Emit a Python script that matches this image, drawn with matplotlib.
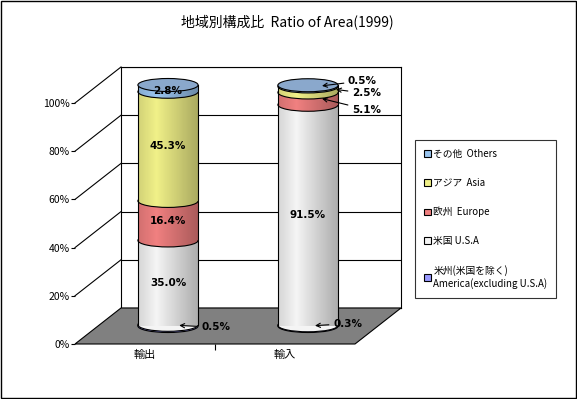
import numpy as np
import matplotlib
matplotlib.use("Agg")
import matplotlib.pyplot as plt
from matplotlib.patches import Ellipse, Rectangle, Polygon, Patch
from matplotlib.lines import Line2D

plt.rcParams['font.family'] = ['Noto Sans CJK JP', 'DejaVu Sans']

categories = ["輸出", "輸入"]
regions = ["米州(米国を除く)\nAmerica(excluding U.S.A)", "米国 U.S.A", "欧州  Europe", "アジア  Asia", "その他  Others"]
export_vals = [0.5, 35.0, 16.4, 45.3, 2.8]
import_vals = [0.3, 91.5, 5.1, 2.5, 0.5]
colors = ["#9999ff", "#f4f4f4", "#f08080", "#f0f088", "#99c4ee"]
cap_color = "#8aa8cc"

W, H = 577, 399
fig = plt.figure(figsize=(W / 100, H / 100), dpi=100)


def fx(x):
    return x / W


def fy(y):
    return 1 - y / H


# plot geometry in pixels (front plane)
x0, x1 = 75, 355
y0, y100 = 344, 103
dx_back, dy_back = 46, 36
dx_mid, dy_mid = 23, 18
aw, ah = (x1 - x0) / W, (y0 - y100) / H

# back wall
ax_back = fig.add_axes([fx(x0 + dx_back), fy(y0 - dy_back), aw, ah])
ax_back.set_xlim(-0.5, 1.5)
ax_back.set_ylim(0, 100)
ax_back.set_yticks([0, 20, 40, 60, 80, 100])
ax_back.set_xticks([])
ax_back.yaxis.grid(True, color="black", lw=0.8)
ax_back.tick_params(left=False, labelleft=False)
for s in ax_back.spines.values():
    s.set_linewidth(0.8)

# floor
floor = Polygon([(fx(x0), fy(y0)), (fx(x1), fy(y0)),
                 (fx(x1 + dx_back), fy(y0 - dy_back)), (fx(x0 + dx_back), fy(y0 - dy_back))],
                closed=True, facecolor="#808080", edgecolor="black", lw=0.8,
                transform=fig.transFigure, zorder=1)
fig.add_artist(floor)

# front axes: ticks and labels
ax_front = fig.add_axes([fx(x0), fy(y0), aw, ah], zorder=2)
ax_front.patch.set_alpha(0)
ax_front.set_xlim(-0.5, 1.5)
ax_front.set_ylim(0, 100)
for s in ax_front.spines.values():
    s.set_visible(False)
yt = [0, 20, 40, 60, 80, 100]
ax_front.set_yticks(yt)
ax_front.set_yticklabels([f"{v}%" for v in yt], fontsize=7.5)
ax_front.tick_params(axis="y", length=3, width=0.8, pad=1)
ax_front.set_xticks([0, 1])
ax_front.set_xticklabels(categories, fontsize=8)
ax_front.set_xticks([0.5], minor=True)
ax_front.tick_params(axis="x", which="major", length=0, pad=4)
ax_front.tick_params(axis="x", which="minor", length=4, width=0.8)

# diagonal lines from front ticks to back wall
for v in yt[1:]:
    yp = y0 - (y0 - y100) * v / 100
    fig.add_artist(Line2D([fx(x0), fx(x0 + dx_back)], [fy(yp), fy(yp - dy_back)],
                          color="black", lw=0.8, transform=fig.transFigure, zorder=1))

# mid plane axes for the cylinders
ax = fig.add_axes([fx(x0 + dx_mid), fy(y0 - dy_mid), aw, ah], zorder=3)
ax.patch.set_alpha(0)
ax.set_xlim(-0.5, 1.5)
ax.set_ylim(0, 100)
ax.axis("off")

bw = 0.43
eh = 5.4
xs = np.arange(len(categories))
grad = np.linspace(0, 1, 100)
shade = np.zeros((1, 100, 4))
shade[0, :, 3] = np.clip(0.3 * np.abs(grad - 0.3) / 0.7, 0, 0.3)

for xi, vals in zip(xs, [export_vals, import_vals]):
    bottom = 0
    z = 2
    for i, v in enumerate(vals):
        ax.add_patch(Ellipse((xi, bottom), bw, eh, facecolor=colors[i], edgecolor="black",
                             lw=0.8, zorder=z, clip_on=False))
        ax.bar(xi, v, bw, bottom=bottom, color=colors[i], edgecolor="none", zorder=z + 1, clip_on=False)
        bottom += v
        z += 2
    im = ax.imshow(shade, extent=(xi - bw / 2, xi + bw / 2, 0, bottom), aspect="auto", zorder=30)
    im.set_clip_path(Rectangle((xi - bw / 2, 0), bw, bottom, transform=ax.transData))
    ax.plot([xi - bw / 2, xi - bw / 2], [0, bottom], color="black", lw=0.8, zorder=31)
    ax.plot([xi + bw / 2, xi + bw / 2], [0, bottom], color="black", lw=0.8, zorder=31)
    ax.add_patch(Ellipse((xi, bottom), bw, eh, facecolor=cap_color, edgecolor="black",
                         lw=0.8, zorder=32, clip_on=False))

lab = dict(fontsize=7.5, fontweight="bold", family=["DejaVu Sans"], ha="center", va="center", zorder=40)

# export labels
cum = np.cumsum([0] + export_vals)
for i in [1, 2, 3]:
    ax.text(xs[0], (cum[i] + cum[i + 1]) / 2, f"{export_vals[i]:.1f}%", **lab)
ax.text(xs[0], cum[4] + 0.5, f"{export_vals[4]:.1f}%", **lab)
ann = dict(textcoords="offset pixels", ha="left", va="center", fontsize=7.5, fontweight="bold",
           family=["DejaVu Sans"], zorder=40, annotation_clip=False,
           arrowprops=dict(arrowstyle="->", lw=0.8, color="black", shrinkA=1, shrinkB=0))
ax.annotate(f"{export_vals[0]:.1f}%", xy=(xs[0] + 0.08, export_vals[0] / 2), xytext=(22, -2), **ann)

# import labels
cum = np.cumsum([0] + import_vals)
ax.text(xs[1], (cum[1] + cum[2]) / 2, f"{import_vals[1]:.1f}%", **lab)
ax.annotate(f"{import_vals[0]:.1f}%", xy=(xs[1] + 0.05, import_vals[0] / 2), xytext=(18, 2), **ann)
ax.annotate(f"{import_vals[2]:.1f}%", xy=(xs[1] + 0.1, (cum[2] + cum[3]) / 2), xytext=(30, -11), **ann)
ax.annotate(f"{import_vals[3]:.1f}%", xy=(xs[1] + 0.2, (cum[3] + cum[4]) / 2), xytext=(16, -4), **ann)
ax.annotate(f"{import_vals[4]:.1f}%", xy=(xs[1] + 0.1, (cum[4] + cum[5]) / 2), xytext=(26, 5), **ann)

# legend
handles = [Patch(facecolor=colors[i], edgecolor="black", lw=0.8) for i in range(len(regions))][::-1]
leg = fig.legend(handles, regions[::-1], loc="upper left", bbox_to_anchor=(fx(415), fy(140)),
                 fontsize=7, frameon=True, fancybox=False, edgecolor="black",
                 handlelength=0.7, handleheight=0.7, handletextpad=0.3,
                 labelspacing=1.95, borderpad=0.9, borderaxespad=0)
leg.get_frame().set_linewidth(0.8)

fig.text(fx(287), fy(22), "地域別構成比  Ratio of Area(1999)", fontsize=10, ha="center", va="center")

# outer border
fig.add_artist(Rectangle((0.001, 0.002), 0.997, 0.996, fill=False, edgecolor="black", lw=1,
                         transform=fig.transFigure))

fig.savefig("out.png", dpi=100)
